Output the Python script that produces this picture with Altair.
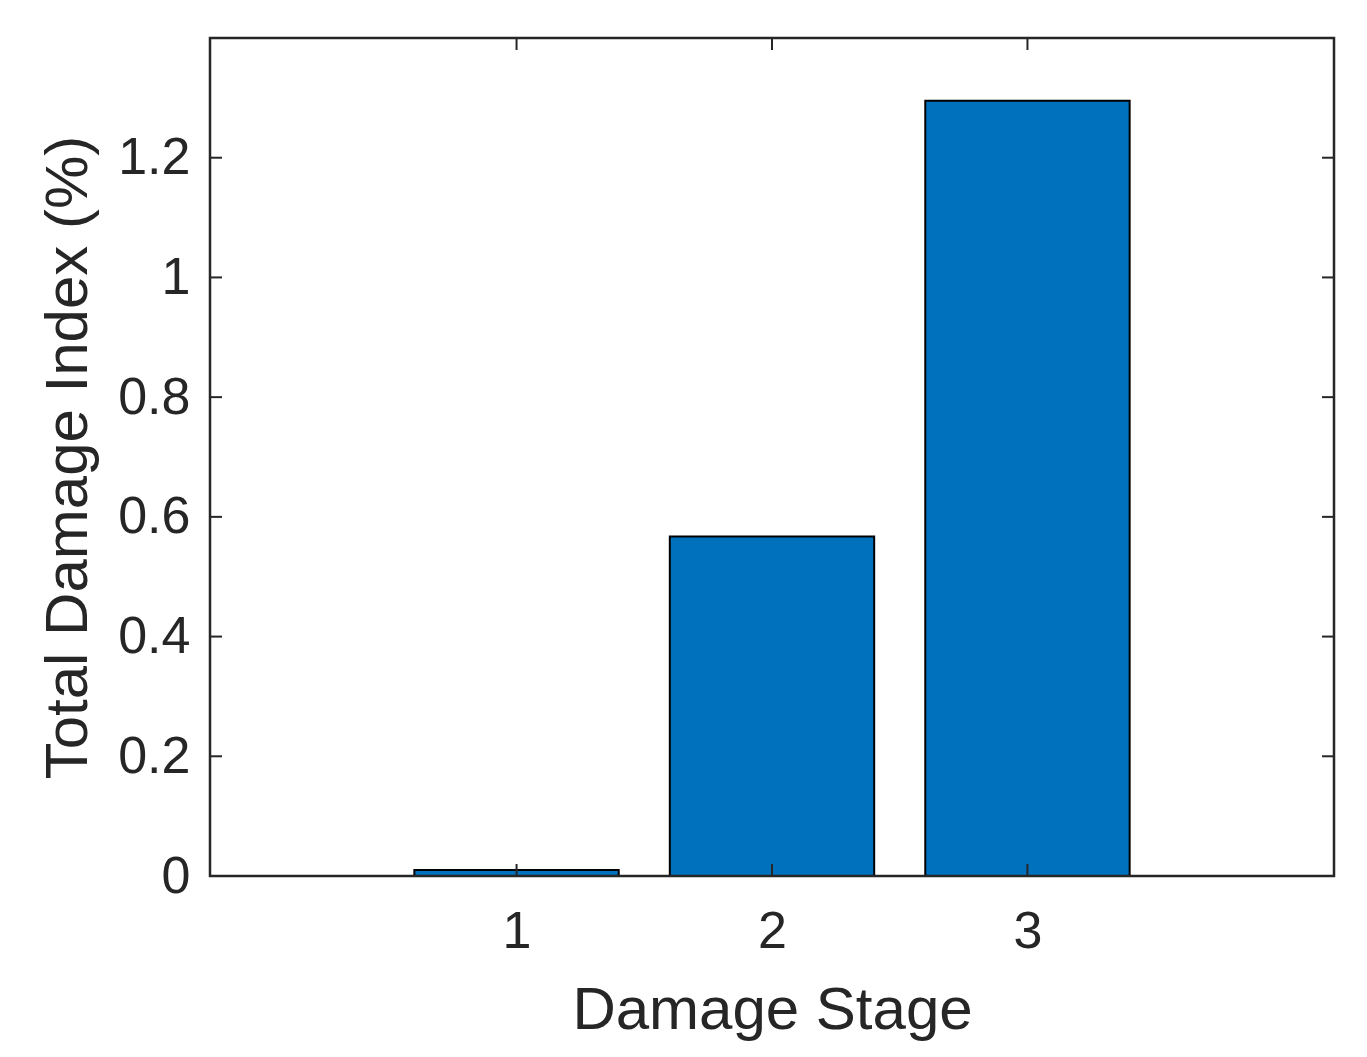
import altair as alt
import pandas as pd

stages = [1, 2, 3]
values = [0.01, 0.567, 1.295]
y_ticks = [0, 0.2, 0.4, 0.6, 0.8, 1.0, 1.2]
x_ticks = [1, 2, 3]

W, H = 1124, 838
FONT = "Liberation Sans"
DARK = "#262626"

df = pd.DataFrame({"stage": stages, "value": values})
xt = pd.DataFrame({"v": x_ticks})
yt = pd.DataFrame({"v": y_ticks})

xscale = alt.Scale(domain=[-0.2, 4.2], nice=False, zero=False)
yscale = alt.Scale(domain=[0, 1.4], nice=False)

bars = alt.Chart(df).transform_calculate(
    x0="datum.stage - 0.4", x1="datum.stage + 0.4"
).mark_bar(color="#0072BD", stroke="#000000", strokeWidth=2).encode(
    x=alt.X("x0:Q", scale=xscale,
            axis=alt.Axis(values=x_ticks, format="d", title="Damage Stage",
                          ticks=False, domain=False, grid=False,
                          labelFont=FONT, labelFontSize=52, labelColor=DARK,
                          labelPadding=30, titleFont=FONT, titleFontSize=60,
                          titleFontWeight="normal", titleColor=DARK,
                          titlePadding=24)),
    x2="x1:Q",
    y=alt.Y("value:Q", scale=yscale,
            axis=alt.Axis(values=y_ticks, format="~g", title="Total Damage Index (%)",
                          ticks=False, domain=False, grid=False,
                          labelFont=FONT, labelFontSize=52, labelColor=DARK,
                          labelPadding=20, titleFont=FONT, titleFontSize=60,
                          titleFontWeight="normal", titleColor=DARK,
                          titlePadding=18)),
    y2=alt.datum(0),
)

tick_len = 12
xb = alt.Chart(xt).mark_rule(color=DARK, strokeWidth=2).encode(
    x=alt.X("v:Q", scale=xscale), y=alt.value(H), y2=alt.value(H - tick_len))
xtop = alt.Chart(xt).mark_rule(color=DARK, strokeWidth=2).encode(
    x=alt.X("v:Q", scale=xscale), y=alt.value(0), y2=alt.value(tick_len))
yl = alt.Chart(yt).mark_rule(color=DARK, strokeWidth=2).encode(
    y=alt.Y("v:Q", scale=yscale), x=alt.value(0), x2=alt.value(tick_len))
yr = alt.Chart(yt).mark_rule(color=DARK, strokeWidth=2).encode(
    y=alt.Y("v:Q", scale=yscale), x=alt.value(W), x2=alt.value(W - tick_len))

frame = alt.Chart(pd.DataFrame({"a": [0]})).mark_rect(
    fill=None, stroke=DARK, strokeWidth=2.5
).encode(x=alt.value(0), x2=alt.value(W), y=alt.value(0), y2=alt.value(H))

chart = alt.layer(bars, xb, xtop, yl, yr, frame).properties(
    width=W, height=H,
    autosize=alt.AutoSizeParams(type="none"),
    padding={"left": 202, "top": 30, "right": 25, "bottom": 170},
).configure_view(stroke=None).configure(background="white")

chart.save("out.html", embed_options={"renderer": "svg", "actions": False})
